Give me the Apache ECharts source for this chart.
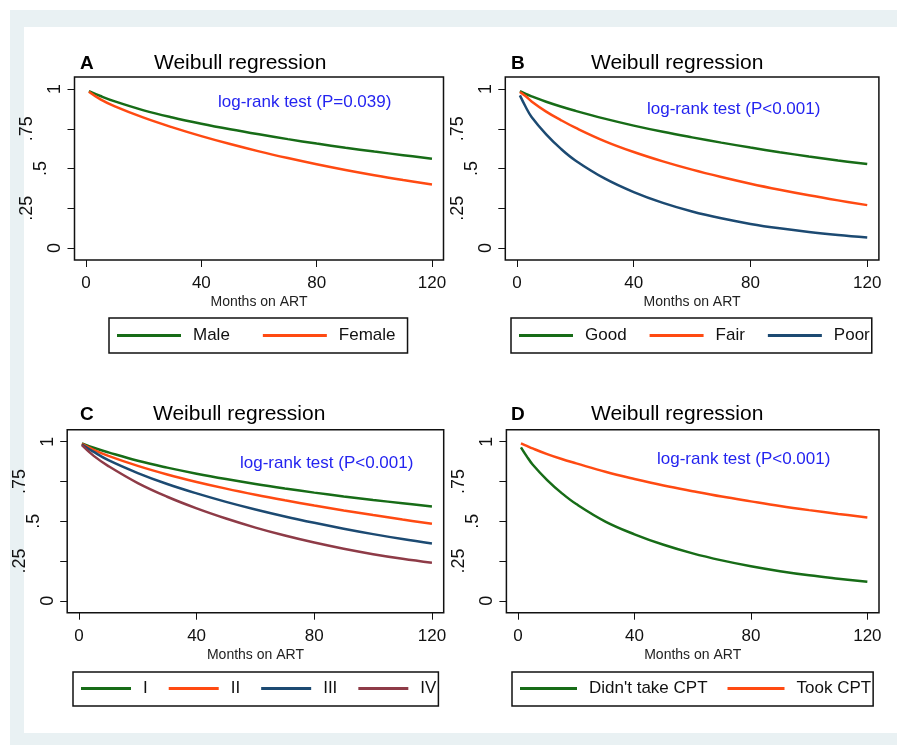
<!DOCTYPE html>
<html><head><meta charset="utf-8">
<script src="https://cdn.jsdelivr.net/npm/echarts@6/dist/echarts.min.js"></script>
<style>
html,body{margin:0;padding:0;background:#fff;overflow:hidden;}
#frame{position:absolute;left:10px;top:10px;width:887px;height:735px;background:#e9f1f3;}
#inner{position:absolute;left:24px;top:27px;width:873px;height:706px;background:#fff;}
#chart{position:absolute;left:0;top:0;width:897px;height:745px;}
</style></head><body>
<div id="frame"></div><div id="inner"></div><div id="chart"></div>
<script>
// ---- data ----
const xTicks = [0, 40, 80, 120];
const yTicks = [0, 0.25, 0.5, 0.75, 1];
const yTickLabels = ['0', '.25', '.5', '.75', '1'];
const panelLetters = ['A', 'B', 'C', 'D'];
const panelTitle = 'Weibull regression';
const logRankLabels = ['log-rank test (P=0.039)', 'log-rank test (P<0.001)', 'log-rank test (P<0.001)', 'log-rank test (P<0.001)'];
const xAxisTitle = 'Months on ART';

// Panel A: sex
const monthsA = [1, 5, 10, 20, 30, 40, 50, 60, 70, 80, 90, 100, 110, 120];
const maleA   = [0.987, 0.956, 0.922, 0.866, 0.821, 0.782, 0.747, 0.715, 0.685, 0.657, 0.631, 0.607, 0.584, 0.562];
const femaleA = [0.983, 0.935, 0.891, 0.820, 0.759, 0.704, 0.654, 0.608, 0.566, 0.527, 0.491, 0.458, 0.428, 0.400];
const namesA = ['Male', 'Female'];

// Panel B: adherence
const monthsB = [1, 3, 5, 10, 15, 20, 30, 40, 50, 60, 70, 80, 90, 100, 110, 120];
const goodB = [0.987, 0.969, 0.954, 0.920, 0.890, 0.863, 0.814, 0.770, 0.731, 0.696, 0.663, 0.632, 0.603, 0.576, 0.551, 0.528];
const fairB = [0.981, 0.954, 0.922, 0.858, 0.805, 0.757, 0.673, 0.604, 0.545, 0.493, 0.447, 0.405, 0.367, 0.332, 0.300, 0.270];
const poorB = [0.960, 0.887, 0.824, 0.715, 0.625, 0.551, 0.438, 0.352, 0.284, 0.230, 0.187, 0.152, 0.124, 0.101, 0.082, 0.066];
const namesB = ['Good', 'Fair', 'Poor'];

// Panel C: WHO stage
const monthsC = [1, 5, 10, 20, 30, 40, 50, 60, 70, 80, 90, 100, 110, 120];
const stage1C = [0.990, 0.962, 0.933, 0.880, 0.837, 0.799, 0.765, 0.734, 0.706, 0.680, 0.656, 0.634, 0.613, 0.593];
const stage2C = [0.986, 0.949, 0.911, 0.848, 0.794, 0.747, 0.705, 0.667, 0.632, 0.599, 0.568, 0.539, 0.511, 0.484];
const stage3C = [0.983, 0.936, 0.884, 0.803, 0.734, 0.675, 0.622, 0.574, 0.530, 0.490, 0.453, 0.419, 0.388, 0.360];
const stage4C = [0.978, 0.911, 0.847, 0.740, 0.654, 0.581, 0.517, 0.460, 0.410, 0.366, 0.327, 0.293, 0.264, 0.239];
const namesC = ['I', 'II', 'III', 'IV'];

// Panel D: CPT
const monthsD = [1, 3, 5, 10, 15, 20, 30, 40, 50, 60, 70, 80, 90, 100, 110, 120];
const noCptD  = [0.965, 0.908, 0.857, 0.759, 0.677, 0.608, 0.498, 0.418, 0.352, 0.298, 0.254, 0.217, 0.186, 0.160, 0.139, 0.120];
const cptD    = [0.990, 0.974, 0.958, 0.922, 0.891, 0.864, 0.811, 0.766, 0.725, 0.689, 0.655, 0.625, 0.596, 0.570, 0.546, 0.524];
const namesD = ["Didn't take CPT", 'Took CPT'];

// ---- styling / layout ----
const GREEN = '#176c17', ORANGE = '#ff4a12', NAVY = '#1c4a72', MAROON = '#8e3b47';
const FONT = '"Liberation Sans", Arial, Helvetica, sans-serif';

const panels = [
  { grid: {left: 74.5, top: 77.1, width: 369, height: 182.9},
    months: monthsA, series: [[namesA[0], maleA, GREEN], [namesA[1], femaleA, ORANGE]],
    letter: {left: 80, top: 54}, title: {left: 154, top: 53}, lr: {left: 218, top: 94},
    legend: {left: 109, top: 318, itemWidth: 64, itemGap: 33, padding: [9, 12, 9, 8]} },
  { grid: {left: 505.3, top: 77.1, width: 373.6, height: 182.9},
    months: monthsB, series: [[namesB[0], goodB, GREEN], [namesB[1], fairB, ORANGE], [namesB[2], poorB, NAVY]],
    letter: {left: 511, top: 54}, title: {left: 591, top: 53}, lr: {left: 647, top: 101},
    legend: {left: 511, top: 318, itemWidth: 54, itemGap: 23, padding: [9, 2, 9, 8]} },
  { grid: {left: 67.2, top: 429.8, width: 376.5, height: 182.9},
    months: monthsC, series: [[namesC[0], stage1C, GREEN], [namesC[1], stage2C, ORANGE], [namesC[2], stage3C, NAVY], [namesC[3], stage4C, MAROON]],
    letter: {left: 80, top: 405}, title: {left: 153, top: 404}, lr: {left: 240, top: 455},
    legend: {left: 73, top: 672, itemWidth: 50, itemGap: 21, padding: [8, 2, 9, 8]} },
  { grid: {left: 506.4, top: 429.8, width: 372.6, height: 182.9},
    months: monthsD, series: [[namesD[0], noCptD, GREEN], [namesD[1], cptD, ORANGE]],
    letter: {left: 511, top: 405}, title: {left: 591, top: 404}, lr: {left: 657, top: 451},
    legend: {left: 512, top: 672, itemWidth: 57, itemGap: 20, padding: [8, 2, 9, 8]} }
];

const option = {
  animation: false,
  backgroundColor: 'transparent',
  textStyle: {fontFamily: FONT},
  title: [], grid: [], xAxis: [], yAxis: [], legend: [], series: []
};

panels.forEach((p, i) => {
  option.title.push({text: panelLetters[i], left: p.letter.left, top: p.letter.top, padding: 0,
    textStyle: {fontSize: 19, fontWeight: 'bold', color: '#000', fontFamily: FONT}});
  option.title.push({text: panelTitle, left: p.title.left, top: p.title.top, padding: 0,
    textStyle: {fontSize: 21, fontWeight: 'normal', color: '#000', fontFamily: FONT}});
  option.title.push({text: logRankLabels[i], left: p.lr.left, top: p.lr.top, padding: 0,
    textStyle: {fontSize: 17, fontWeight: 'normal', color: '#2424f0', fontFamily: FONT}});

  option.grid.push(Object.assign({show: true, borderColor: '#111', borderWidth: 1.5, backgroundColor: '#fff'}, p.grid));

  option.xAxis.push({
    type: 'value', gridIndex: i, min: -4, max: 124,
    name: xAxisTitle, nameLocation: 'middle', nameGap: 35,
    nameTextStyle: {fontSize: 14, color: '#222', fontFamily: FONT},
    axisLine: {show: false, onZero: false},
    axisTick: {show: true, inside: false, length: 7, customValues: xTicks, lineStyle: {color: '#111', width: 1}},
    axisLabel: {show: true, customValues: xTicks, margin: 15, fontSize: 17, color: '#111', fontFamily: FONT},
    splitLine: {show: false}
  });

  option.yAxis.push({
    type: 'value', gridIndex: i, min: -0.075, max: 1.075,
    axisLine: {show: false, onZero: false},
    axisTick: {show: true, inside: false, length: 7, customValues: yTicks, lineStyle: {color: '#111', width: 1}},
    axisLabel: {
      show: true, customValues: yTicks, rotate: 90, margin: 10, fontSize: 18, color: '#111', fontFamily: FONT,
      formatter: function (v) {
        let idx = -1;
        yTicks.forEach((t, k) => { if (Math.abs(t - v) < 1e-9) idx = k; });
        const s = idx >= 0 ? yTickLabels[idx] : '';
        return '{p' + s.length + '|' + s + '}';
      },
      rich: {
        p1: {fontSize: 18, color: '#111', fontFamily: FONT, padding: [0, 0, 0, 0]},
        p2: {fontSize: 18, color: '#111', fontFamily: FONT, padding: [0, 0, 14, 0]},
        p3: {fontSize: 18, color: '#111', fontFamily: FONT, padding: [0, 0, 28, 0]}
      }
    },
    splitLine: {show: false}
  });

  option.legend.push({
    orient: 'horizontal', left: p.legend.left, top: p.legend.top,
    itemWidth: p.legend.itemWidth, itemHeight: 3, itemGap: p.legend.itemGap, icon: 'rect',
    padding: p.legend.padding, borderColor: '#111', borderWidth: 1.5, borderRadius: 0,
    backgroundColor: '#fff', selectedMode: false,
    data: p.series.map(s => s[0]),
    textStyle: {fontSize: 17, color: '#111', fontFamily: FONT, padding: [0, 0, 0, 7]}
  });

  p.series.forEach(s => {
    option.series.push({
      type: 'line', name: s[0], xAxisIndex: i, yAxisIndex: i,
      data: p.months.map((m, k) => [m, s[1][k]]),
      showSymbol: false, symbol: 'none', smooth: 0.4,
      lineStyle: {color: s[2], width: 2.5}, itemStyle: {color: s[2]},
      emphasis: {disabled: true}, silent: true
    });
  });
});

const chart = echarts.init(document.getElementById('chart'), null, {renderer: 'canvas'});
chart.setOption(option);
</script>
</body></html>
